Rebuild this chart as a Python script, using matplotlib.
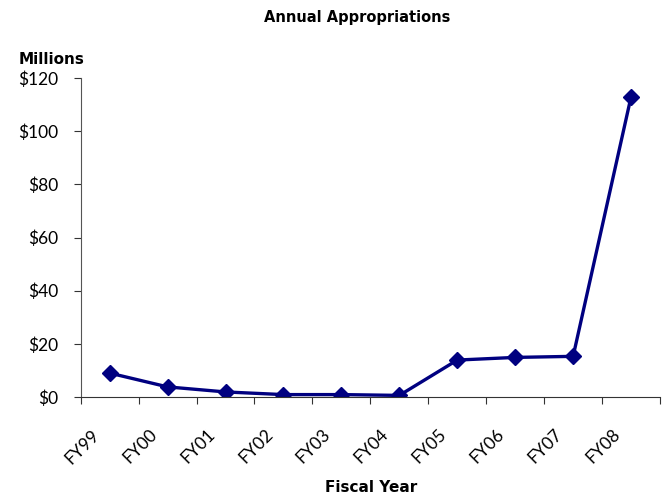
import matplotlib.pyplot as plt
import matplotlib.transforms as mtransforms
import numpy as np

years = ['FY99', 'FY00', 'FY01', 'FY02', 'FY03', 'FY04', 'FY05', 'FY06', 'FY07', 'FY08']
approp = [9.0, 3.8, 1.9, 0.9, 0.9, 0.6, 13.9, 14.9, 15.3, 113.0]

plt.rcParams['font.family'] = ['Lato', 'DejaVu Sans']

fig = plt.figure(figsize=(6.63, 4.95), dpi=100)
ax = fig.add_axes([0.1217, 0.198, 0.8738, 0.644])

xc = np.arange(len(years)) + 0.5
ax.plot(xc, approp, color='#000080', lw=2.4, marker='D', ms=8.5)

ax.set_xlim(0, len(years))
ax.set_ylim(0, 120)
ax.set_yticks(np.arange(0, 121, 20))
ax.set_yticklabels(['$%d' % v for v in range(0, 121, 20)], fontsize=12.5)
ax.set_xticks(np.arange(0, len(years) + 1))
ax.set_xticklabels([])
ax.set_xticks(xc, minor=True)
ax.set_xticklabels(years, minor=True, rotation=45, ha='right', va='top',
                   rotation_mode='anchor', fontsize=12.5)
ax.tick_params(axis='x', which='minor', length=0, pad=14)
ax.tick_params(axis='x', which='major', direction='out', length=5, width=0.8, color='#333333')
ax.tick_params(axis='y', direction='out', length=5, width=0.8, color='#333333', pad=11)

# nudge the slanted year labels down and left like the original
off = mtransforms.ScaledTranslation(-19 / 100, -10 / 100, fig.dpi_scale_trans)
for lab in ax.get_xticklabels(minor=True):
    lab.set_transform(lab.get_transform() + off)

for s in ['top', 'right']:
    ax.spines[s].set_visible(False)
ax.spines['left'].set_color('#555555')
ax.spines['bottom'].set_color('#333333')

bold = ['DejaVu Sans']
fig.text(0.539, 0.964, 'Annual Appropriations', ha='center', va='center',
         fontsize=10.5, fontweight='bold', family=bold)
fig.text(0.078, 0.879, 'Millions', ha='center', va='center',
         fontsize=11, fontweight='bold', family=bold)
fig.text(0.56, 0.016, 'Fiscal Year', ha='center', va='center',
         fontsize=11, fontweight='bold', family=bold)

fig.savefig('out.png', dpi=100)
